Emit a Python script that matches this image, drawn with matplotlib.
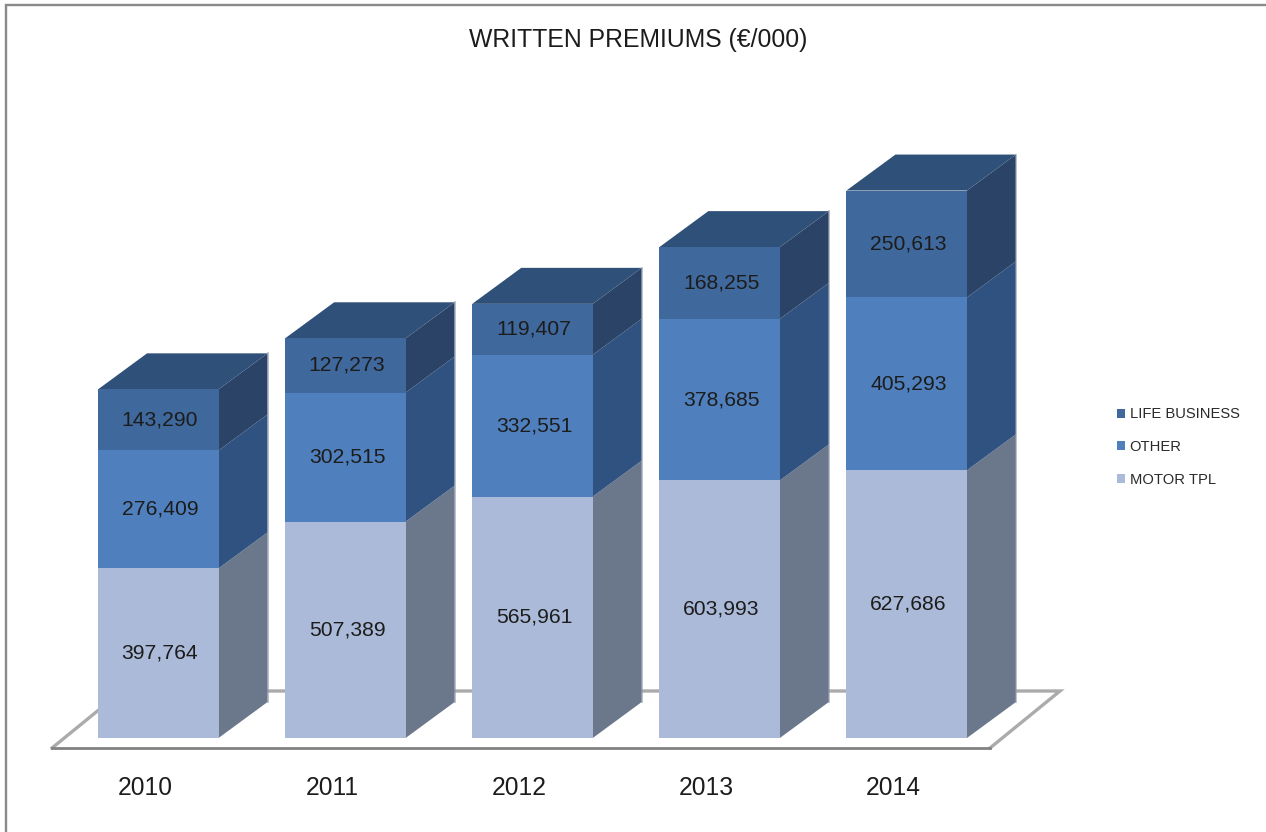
import matplotlib
matplotlib.use("Agg")
import matplotlib.pyplot as plt
from matplotlib.patches import Patch, Polygon
import numpy as np

years = ["2010", "2011", "2012", "2013", "2014"]
motor_tpl = [397764, 507389, 565961, 603993, 627686]
other = [276409, 302515, 332551, 378685, 405293]
life_business = [143290, 127273, 119407, 168255, 250613]
series_names = ["MOTOR TPL", "OTHER", "LIFE BUSINESS"]
front_colors = ["#ABBAD8", "#4F80BD", "#3F689C"]
side_colors = ["#6B778B", "#2F5280", "#2A4366"]
top_color = "#2F5078"

W, H = 1266, 832
X0, X_STEP = 158.3, 187.1      # pixel position of the first bar centre, bar pitch
Y0, Y_SCALE = 738.0, 0.4265e-3 # pixel position of the baseline, pixels per euro-thousand
BAR_W = 120.5 / X_STEP
DEPTH_X = 49 / X_STEP
DEPTH_Y = 36 / Y_SCALE

plt.rcParams["font.family"] = ["Liberation Sans", "DejaVu Sans"]
TEXT = "#1c1c1c"

fig = plt.figure(figsize=(W / 100, H / 100), dpi=100, facecolor="white")
ax = fig.add_axes([0, 0, 1, 1])
ax.set_xlim(-X0 / X_STEP, (W - X0) / X_STEP)
ax.set_ylim(-(H - Y0) / Y_SCALE, Y0 / Y_SCALE)
ax.axis("off")


def px_x(p):
    return (p - X0) / X_STEP


def px_y(p):
    return (Y0 - p) / Y_SCALE


# outer frame
ax.plot([px_x(6), px_x(6), px_x(W)], [px_y(H), px_y(5), px_y(5)],
        color="#8A8A8A", lw=1.7, solid_joinstyle="miter", zorder=1)

# floor plate of the 3D chart
floor_y_front, floor_y_back = px_y(748), px_y(691)
floor_left, floor_right = px_x(52), px_x(990)
floor_dx = px_x(1060) - px_x(990)
ax.plot([floor_left, floor_left + floor_dx, floor_right + floor_dx, floor_right],
        [floor_y_front, floor_y_back, floor_y_back, floor_y_front],
        color="#ABABAB", lw=2.4, solid_joinstyle="miter", zorder=1)
ax.plot([floor_left, floor_right], [floor_y_front, floor_y_front],
        color="#828282", lw=2.0, zorder=2)

x = np.arange(len(years))
values = [motor_tpl, other, life_business]
bottom = np.zeros(len(years))
handles = []
for vals, name, fc, sc in zip(values, series_names, front_colors, side_colors):
    vals = np.array(vals, dtype=float)
    ax.bar(x, vals, BAR_W, bottom=bottom, color=fc, linewidth=0, zorder=4)
    for xi, b, v in zip(x, bottom, vals):
        r = xi + BAR_W / 2
        ax.add_patch(Polygon(
            [(r, b), (r + DEPTH_X, b + DEPTH_Y),
             (r + DEPTH_X, b + v + DEPTH_Y), (r, b + v)],
            closed=True, facecolor=sc, edgecolor="none", zorder=3))
        ax.text(xi + 0.009, b + v / 2, f"{int(v):,}", ha="center", va="center",
                fontsize=15.2, color=TEXT, zorder=6)
    handles.append(Patch(facecolor=fc, edgecolor="none", label=name))
    bottom = bottom + vals

# top faces and the soft outer edge of each column
for xi, total in zip(x, bottom):
    l, r = xi - BAR_W / 2, xi + BAR_W / 2
    ax.add_patch(Polygon(
        [(l, total), (l + DEPTH_X, total + DEPTH_Y),
         (r + DEPTH_X, total + DEPTH_Y), (r, total)],
        closed=True, facecolor=top_color, edgecolor="none", zorder=3))
    ax.plot([r + DEPTH_X, r + DEPTH_X], [DEPTH_Y, total + DEPTH_Y],
            color="#8C98AC", lw=1.2, alpha=0.7, zorder=3)

# category labels
for xi, year in zip(x, years):
    ax.text(xi - 13 / X_STEP, px_y(788), year, ha="center", va="center",
            fontsize=17.7, color=TEXT, zorder=6)

ax.text(px_x(638), px_y(40.5), "WRITTEN PREMIUMS (€/000)", ha="center", va="center",
        fontsize=17.8, color=TEXT, zorder=6)

ax.legend(handles=handles[::-1], loc="center left",
          bbox_to_anchor=(1116.5 / W, 1 - 447 / H), bbox_transform=fig.transFigure,
          frameon=False, fontsize=10.6, labelcolor="#2a2a2a",
          handlelength=0.58, handleheight=0.58, handletextpad=0.32,
          labelspacing=1.26, borderpad=0, borderaxespad=0)

fig.savefig("out.png", dpi=100)
